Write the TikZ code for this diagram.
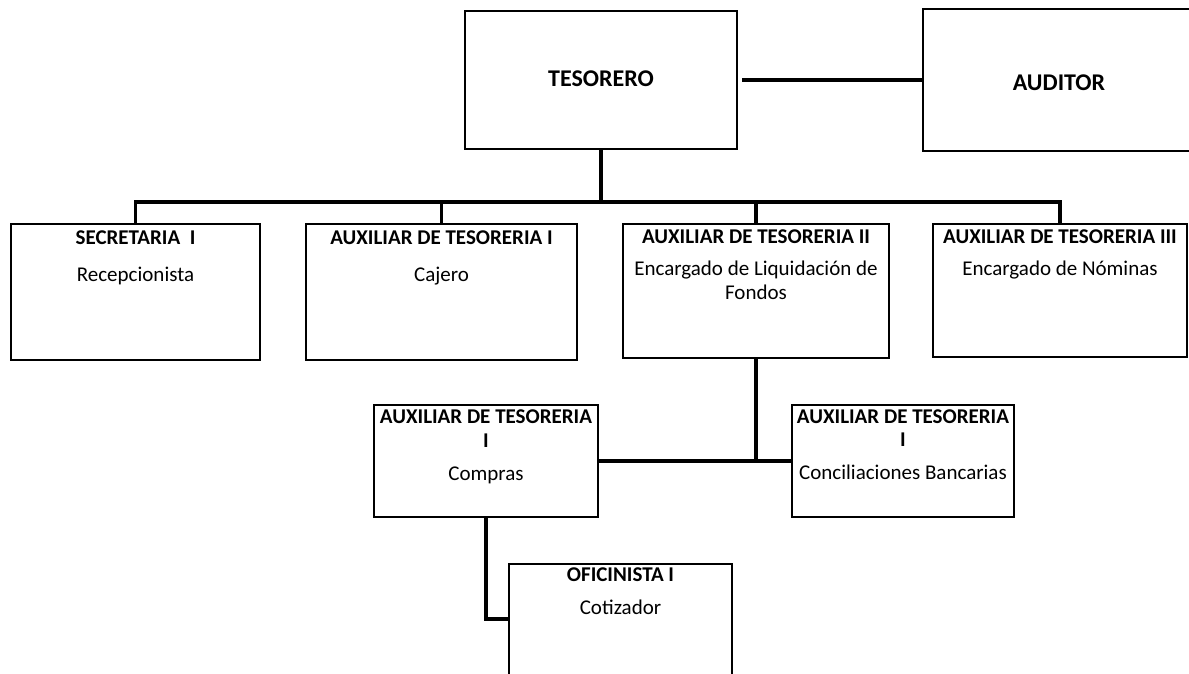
\documentclass[tikz,border=0pt]{standalone}
\usepackage{fontspec}
\setmainfont{Carlito}
\usetikzlibrary{calc}
\begin{document}
\begin{tikzpicture}[x=1pt,y=-1pt,
  box/.style={draw=black, line width=2.2pt, inner sep=0pt, rectangle},
  conn/.style={draw=black, line width=3.3pt},
  trunk/.style={draw=black, line width=3.8pt},
  head/.style={font=\fontsize{21}{25}\selectfont\bfseries, anchor=base, inner sep=0pt},
  sub/.style={font=\fontsize{21}{25}\selectfont, anchor=base, inner sep=0pt},
  big/.style={font=\fontsize{24}{28}\selectfont\bfseries, anchor=base, inner sep=0pt}]
\useasboundingbox[fill=white] (0,0) rectangle (1189,673);

% top level
\node[box, minimum width=272pt, minimum height=138pt] (tes) at (601,80) {};
\node[box, minimum width=272pt, minimum height=142pt] (aud) at (1059,80) {};
\node[big] (tesT) at ($(tes.north)+(0,77)$) {TESORERO};
\node[big] (audT) at ($(aud.north)+(0,83)$) {AUDITOR};

% second level
\node[box, minimum width=249pt, minimum height=136pt] (sec) at (135.5,292) {};
\node[box, minimum width=271pt, minimum height=136pt] (aux1) at (441.5,292) {};
\node[box, minimum width=266pt, minimum height=134pt] (aux2) at (756,291) {};
\node[box, minimum width=254pt, minimum height=133pt] (aux3) at (1060,290.5) {};

\node[head] (secT) at ($(sec.north)+(0,22)$) {SECRETARIA\ \ I};
\node[sub]  (secS) at ($(sec.north)+(0,59)$) {Recepcionista};
\node[head] (aux1T) at ($(aux1.north)+(0,22)$) {AUXILIAR DE TESORERIA I};
\node[sub]  (aux1S) at ($(aux1.north)+(0,59)$) {Cajero};
\node[head] (aux2T) at ($(aux2.north)+(0,21)$) {AUXILIAR DE TESORERIA II};
\node[sub]  (aux2S) at ($(aux2.north)+(0,53)$) {Encargado de Liquidación de};
\node[sub]  (aux2U) at ($(aux2.north)+(0,77)$) {Fondos};
\node[head] (aux3T) at ($(aux3.north)+(0,21)$) {AUXILIAR DE TESORERIA III};
\node[sub]  (aux3S) at ($(aux3.north)+(0,53)$) {Encargado de Nóminas};

% third level
\node[box, minimum width=224pt, minimum height=112pt] (comp) at (486,461) {};
\node[box, minimum width=222pt, minimum height=112pt] (conc) at (903,461) {};
\node[head] (compT) at ($(comp.north)+(0,20)$) {AUXILIAR DE TESORERIA};
\node[head] (compI) at ($(comp.north)+(0,44)$) {I};
\node[sub]  (compS) at ($(comp.north)+(0,77)$) {Compras};
\node[head] (concT) at ($(conc.north)+(0,20)$) {AUXILIAR DE TESORERIA};
\node[head] (concI) at ($(conc.north)+(0,43)$) {I};
\node[sub]  (concS) at ($(conc.north)+(0,76)$) {Conciliaciones Bancarias};

% fourth level
\node[box, minimum width=223pt, minimum height=126pt] (ofi) at (620.5,627) {};
\node[head] (ofiT) at ($(ofi.north)+(0,19)$) {OFICINISTA I};
\node[sub]  (ofiS) at ($(ofi.north)+(0,52)$) {Cotizador};

% connectors
\coordinate (bus) at (0,202);
\draw[trunk, shorten <=4pt] (tes.east) -- (aud.west);
\draw[trunk] (tes.south) -- (tes.south |- bus);
\draw[conn] (sec.north) |- (aux3.north |- bus) -- (aux3.north);
\draw[conn] (aux1.north) -- (aux1.north |- bus);
\draw[conn] (aux2.north) -- (aux2.north |- bus);
\draw[conn] (aux2.south) -- (aux2.south |- comp.east);
\draw[conn] (comp.east) -- (conc.west);
\draw[conn] (comp.south) |- ([yshift=8pt]ofi.west);
\end{tikzpicture}
\end{document}
